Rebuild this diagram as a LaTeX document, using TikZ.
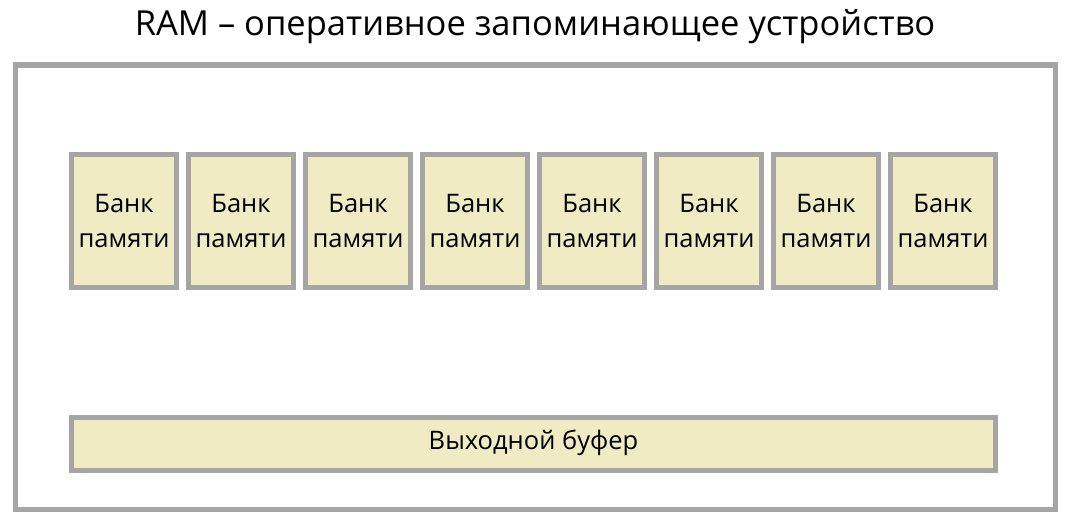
\documentclass[tikz,border=0pt]{standalone}
\usepackage{fontspec}
\setmainfont{Open Sans}
\definecolor{frame}{HTML}{A5A5A5}
\definecolor{bankfill}{HTML}{F0EBC3}
\begin{document}
\begin{tikzpicture}[x=1pt,y=-1pt,
  box/.style={draw=frame,line width=5pt,fill=bankfill,inner sep=0pt},
  lbl/.style={font=\fontsize{25.5}{35}\selectfont,align=center,text=black}]
\useasboundingbox (0,0) rectangle (1070,527);
\node[font=\fontsize{34.5}{40}\selectfont] (title) at (535,27) {RAM – оперативное запоминающее устройство};
\draw[draw=frame,line width=5pt] (15,65) rectangle (1055,509);
\foreach \i in {0,...,7}{
  \pgfmathsetmacro{\xl}{71.5+117*\i}
  \pgfmathsetmacro{\xr}{\xl+105}
  \draw[box] (\xl,154.7) rectangle (\xr,287.5);
  \node[lbl] (bank\i) at ({\xl+52.5},221) {Банк\\памяти};
}
\draw[box] (71.5,417.5) rectangle (995.5,470);
\node[lbl] (buf) at (533.5,443) {Выходной буфер};
\end{tikzpicture}
\end{document}
